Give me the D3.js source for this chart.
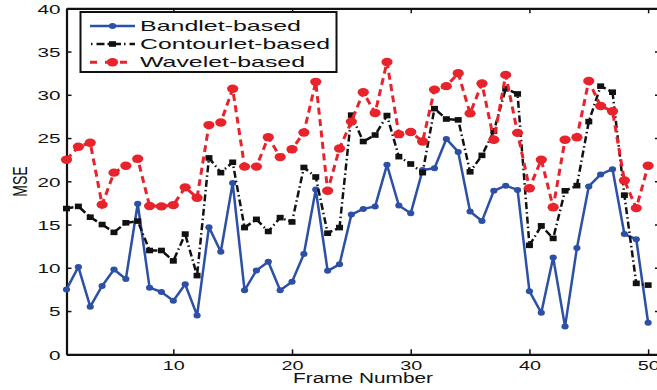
<!DOCTYPE html>
<html>
<head>
<meta charset="utf-8">
<script src="https://cdn.jsdelivr.net/npm/d3@7"></script>
<style>
  html, body { margin: 0; padding: 0; background: #fff; }
  svg { display: block; font-family: "Liberation Sans", Arial, Helvetica, sans-serif; }
</style>
</head>
<body>
<svg id="chart" width="657" height="390"></svg>
<script>
const frames = [1,2,3,4,5,6,7,8,9,10,11,12,13,14,15,16,17,18,19,20,21,22,23,24,25,
                26,27,28,29,30,31,32,33,34,35,36,37,38,39,40,41,42,43,44,45,46,47,48,49,50];
const bandlet = [7.5,10.1,5.5,7.9,9.8,8.7,17.4,7.7,7.2,6.2,8.1,4.5,14.7,11.85,19.8,7.4,9.7,10.7,7.4,8.4,
                 11.6,19.05,9.65,10.4,16.15,16.8,17.1,21.9,17.2,16.3,21.3,21.5,24.9,23.4,16.5,15.4,18.9,19.5,19.0,7.3,
                 4.8,11.2,3.2,12.3,19.4,20.8,21.4,13.9,13.3,3.65];
const contourlet = [16.85,17.1,15.85,15.0,14.1,15.2,15.4,12.0,12.0,10.8,13.9,9.1,22.7,21.0,22.2,14.65,15.6,14.2,15.8,15.3,
                    21.6,20.5,14.0,14.65,27.65,24.6,25.35,27.6,22.85,22.0,21.0,28.4,27.2,27.1,21.1,23.0,25.8,30.7,30.1,12.6,
                    14.85,13.4,18.9,19.5,26.9,31.0,30.3,18.4,8.2,8.0];
const wavelet = [22.5,24.0,24.45,17.3,21.0,21.8,22.6,17.15,17.1,17.25,19.3,18.1,26.5,26.8,30.7,21.7,21.7,25.1,22.8,23.7,
                 25.65,31.5,18.9,23.8,26.9,30.3,27.9,33.8,25.45,25.7,24.6,30.6,31.0,32.5,27.85,31.3,24.8,32.3,25.6,19.2,
                 22.5,17.0,24.8,25.1,31.6,28.7,28.1,20.1,16.9,21.8];
const seriesNames = ["Bandlet-based", "Contourlet-based", "Wavelet-based"];
const xTicks = [10,20,30,40,50];
const yTicks = [0,5,10,15,20,25,30,35,40];
const xLabel = "Frame Number";
const yLabel = "MSE";

const svg = d3.select("#chart");
const L = 66.5, R = 660, T = 8.3, B = 354.3;
const x = d3.scaleLinear().domain([1, 51]).range([L, R]);
const y = d3.scaleLinear().domain([0, 40]).range([B, T]);

const blue = "#2b50a6", red = "#e8232b", black = "#111";

// axes
function styleAxis(g) {
  g.select(".domain").attr("stroke", "#111").attr("stroke-width", 2.2);
  g.selectAll(".tick line").attr("stroke", "#111").attr("stroke-width", 1.5);
}
const gx = svg.append("g").attr("transform", `translate(0,${B})`)
  .call(d3.axisBottom(x).tickValues(xTicks).tickSize(-5).tickSizeOuter(0).tickPadding(7).tickFormat(d3.format("d")));
styleAxis(gx);
gx.selectAll(".tick text").attr("font-size", 12.5).attr("fill", "#111")
  .attr("font-family", "Liberation Sans, Arial, sans-serif")
  .attr("textLength", d => String(d).length * 11).attr("lengthAdjust", "spacingAndGlyphs");

const gy = svg.append("g").attr("transform", `translate(${L},0)`)
  .call(d3.axisLeft(y).tickValues(yTicks).tickSize(-5).tickSizeOuter(0).tickPadding(6).tickFormat(d3.format("d")));
styleAxis(gy);
gy.selectAll(".tick text").attr("font-size", 12.5).attr("fill", "#111").attr("dy", "0.38em")
  .attr("font-family", "Liberation Sans, Arial, sans-serif")
  .attr("textLength", d => String(d).length * 11.5).attr("lengthAdjust", "spacingAndGlyphs");

const gt = svg.append("g").attr("transform", `translate(0,${T})`)
  .call(d3.axisTop(x).tickValues(xTicks).tickSize(-5).tickSizeOuter(0).tickFormat(""));
styleAxis(gt);
const gr = svg.append("g").attr("transform", `translate(${R},0)`)
  .call(d3.axisRight(y).tickValues(yTicks).tickSize(-5).tickSizeOuter(0).tickFormat(""));
styleAxis(gr);

// axis labels
svg.append("text").attr("x", 363).attr("y", 383.3).attr("text-anchor", "middle")
  .attr("font-size", 14).attr("fill", "#111")
  .attr("textLength", 140).attr("lengthAdjust", "spacingAndGlyphs").text(xLabel);
svg.append("text").attr("transform", "translate(27,181.5) scale(1.45,1) rotate(-90)")
  .attr("text-anchor", "middle").attr("font-size", 14).attr("fill", "#111").text(yLabel);

// series
const line = d3.line().x((d, i) => x(frames[i])).y(d => y(d));

// Bandlet
svg.append("path").datum(bandlet).attr("d", line).attr("fill", "none")
  .attr("stroke", blue).attr("stroke-width", 2.5).attr("stroke-linejoin", "round");
svg.append("g").selectAll("ellipse").data(bandlet).join("ellipse")
  .attr("cx", (d, i) => x(frames[i])).attr("cy", d => y(d)).attr("rx", 3.6).attr("ry", 3).attr("fill", blue);

// Contourlet
svg.append("path").datum(contourlet).attr("d", line).attr("fill", "none")
  .attr("stroke", black).attr("stroke-width", 2.5).attr("stroke-dasharray", "7,3,1.5,3");
svg.append("g").selectAll("rect").data(contourlet).join("rect")
  .attr("x", (d, i) => x(frames[i]) - 3.5).attr("y", d => y(d) - 2.8).attr("width", 7).attr("height", 5.6).attr("fill", black);

// Wavelet
svg.append("path").datum(wavelet).attr("d", line).attr("fill", "none")
  .attr("stroke", red).attr("stroke-width", 3).attr("stroke-dasharray", "7,4.5");
svg.append("g").selectAll("ellipse").data(wavelet).join("ellipse")
  .attr("cx", (d, i) => x(frames[i])).attr("cy", d => y(d)).attr("rx", 5.6).attr("ry", 4.2).attr("fill", red);

// legend
const lg = svg.append("g");
lg.append("rect").attr("x", 80.5).attr("y", 12).attr("width", 256).attr("height", 60)
  .attr("fill", "#fff").attr("stroke", "#111").attr("stroke-width", 2);
const rows = [26, 44, 62.3];
const widths = [161, 190, 165];
const lx0 = 90, lx1 = 135, lm = 112.5;
// Bandlet sample
lg.append("line").attr("x1", lx0).attr("x2", lx1).attr("y1", rows[0]).attr("y2", rows[0])
  .attr("stroke", blue).attr("stroke-width", 2.5);
lg.append("ellipse").attr("cx", lm).attr("cy", rows[0]).attr("rx", 3.6).attr("ry", 3).attr("fill", blue);
// Contourlet sample
lg.append("line").attr("x1", lx0 + 1).attr("x2", lx1).attr("y1", rows[1]).attr("y2", rows[1])
  .attr("stroke", black).attr("stroke-width", 2.5).attr("stroke-dasharray", "1.5,4,8,3");
lg.append("rect").attr("x", lm - 3.5).attr("y", rows[1] - 2.8).attr("width", 7).attr("height", 5.6).attr("fill", black);
// Wavelet sample
lg.append("line").attr("x1", lx0).attr("x2", lx1).attr("y1", rows[2]).attr("y2", rows[2])
  .attr("stroke", red).attr("stroke-width", 3).attr("stroke-dasharray", "7,8");
lg.append("ellipse").attr("cx", lm).attr("cy", rows[2]).attr("rx", 5.6).attr("ry", 4.2).attr("fill", red);

lg.selectAll("text.lt").data(seriesNames).join("text").attr("class", "lt")
  .attr("x", 140).attr("y", (d, i) => rows[i] + 4.8)
  .attr("font-size", 14.5).attr("fill", "#111")
  .attr("textLength", (d, i) => widths[i]).attr("lengthAdjust", "spacingAndGlyphs")
  .text(d => d);
</script>
</body>
</html>
